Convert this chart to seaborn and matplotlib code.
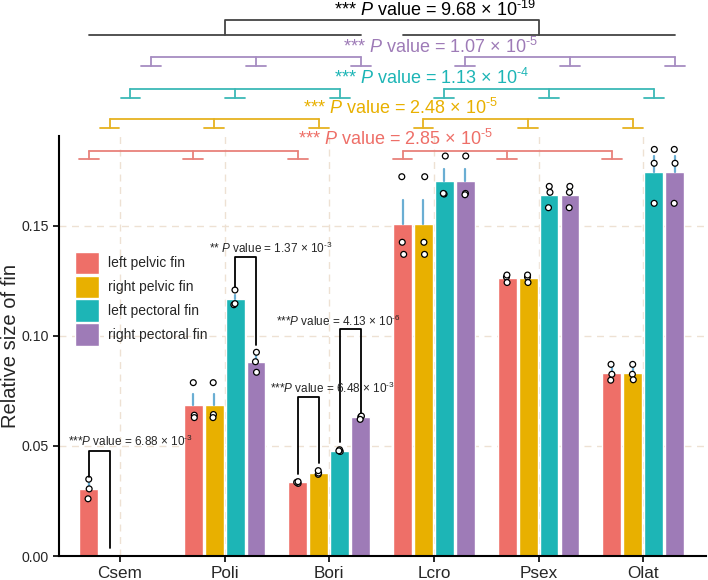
import numpy as np
import pandas as pd
import seaborn as sns
import matplotlib.pyplot as plt
from matplotlib.patches import Patch

species = ['Csem', 'Poli', 'Bori', 'Lcro', 'Psex', 'Olat']
fins = ['left pelvic fin', 'right pelvic fin', 'left pectoral fin', 'right pectoral fin']
colors = ['#EE6F68', '#E8B000', '#1DB5B6', '#9E7BB7']
line_colors = ['#E8817B', '#E6B220', '#3CB9B6', '#A68CC1']

# three measurements per species (None = not measured)
left_pelvic = [[0.0349, 0.0305, 0.0260], [0.0788, 0.0640, 0.0629], [0.0330, 0.0335, 0.0338],
               [0.1724, 0.1426, 0.1371], [0.1268, 0.1277, 0.1243], [0.0871, 0.0826, 0.0799]]
right_pelvic = [None, [0.0788, 0.0643, 0.0629], [0.0371, 0.0377, 0.0388],
                [0.1724, 0.1426, 0.1371], [0.1268, 0.1277, 0.1243], [0.0871, 0.0826, 0.0801]]
left_pectoral = [None, [0.1209, 0.1142, 0.1147], [0.0475, 0.0483, 0.0478],
                 [0.1818, 0.1645, 0.1648], [0.1653, 0.1680, 0.1583], [0.1848, 0.1785, 0.1603]]
right_pectoral = [None, [0.0926, 0.0883, 0.0835], [0.0633, 0.0636, 0.0621],
                  [0.1818, 0.1648, 0.1642], [0.1653, 0.1680, 0.1583], [0.1848, 0.1785, 0.1603]]
all_fins = [left_pelvic, right_pelvic, left_pectoral, right_pectoral]

# overall comparisons
group_p = ['*** $\\mathit{P}$ value = 2.85 × 10$^{‐5}$', '*** $\\mathit{P}$ value = 2.48 × 10$^{‐5}$',
           '*** $\\mathit{P}$ value = 1.13 × 10$^{‐4}$', '*** $\\mathit{P}$ value = 1.07 × 10$^{‐5}$']
total_p = '*** $\\mathit{P}$ value = 9.68 × 10$^{‐19}$'

# pairwise comparisons: species index, fin a, fin b, text
pair_species = [0, 1, 2, 2]
pair_fins = [(0, 1), (2, 3), (0, 1), (2, 3)]
pair_p = ['***$\\mathit{P}$ value = 6.88 × 10$^{‐3}$', '** $\\mathit{P}$ value = 1.37 × 10$^{‐3}$',
          '***$\\mathit{P}$ value = 6.48 × 10$^{‐3}$', '***$\\mathit{P}$ value = 4.13 × 10$^{‐6}$']

rows = []
for fin, vals in zip(fins, all_fins):
    for sp, v in zip(species, vals):
        if v is None:
            continue
        for x in v:
            rows.append({'species': sp, 'fin': fin, 'size': x})
df = pd.DataFrame(rows)

sns.set_style('ticks')
plt.rcParams['font.family'] = ['Liberation Sans', 'DejaVu Sans']
plt.rcParams['mathtext.fontset'] = 'custom'
plt.rcParams['mathtext.rm'] = 'Liberation Sans'
plt.rcParams['mathtext.it'] = 'Liberation Sans:italic'

fig = plt.figure(figsize=(7.08, 5.8), dpi=100)
ax = fig.add_axes([59 / 708, 24 / 580, 647 / 708, 420 / 580])

sns.barplot(data=df, x='species', y='size', hue='fin', order=species, hue_order=fins,
            palette=colors, errorbar=None, width=0.8, gap=0.1, saturation=1, ax=ax, legend=False)


def pos(i, j):
    return i + (j - 1.5) * 0.2


# error bars (mean + SE, upper side only)
for j, vals in enumerate(all_fins):
    for i, v in enumerate(vals):
        if v is None:
            continue
        m = np.mean(v)
        se = np.std(v, ddof=1) / np.sqrt(len(v))
        ax.plot([pos(i, j), pos(i, j)], [m, m + se], color='#6AAED3', lw=1.6, zorder=3)

np.random.seed(3)
sns.stripplot(data=df, x='species', y='size', hue='fin', order=species, hue_order=fins,
              palette=['white'] * 4, dodge=True, jitter=0.05, size=4.2, linewidth=0.9,
              edgecolor='black', ax=ax, legend=False, zorder=4)

ax.set_xlim(-0.583, 5.6)
ax.set_ylim(0, 0.1909)
ax.set_yticks([0, 0.05, 0.10, 0.15])
ax.set_yticklabels(['0.00', '0.05', '0.10', '0.15'])
ax.set_xlabel('')
ax.set_ylabel('Relative size of fin', fontsize=14.5)
ax.yaxis.set_label_coords(-0.061, 0.5)
ax.tick_params(axis='x', labelsize=12.3, length=4, width=1.2, color='black')
ax.tick_params(axis='y', labelsize=10.2, length=4, width=1.2, color='black')
for s in ['top', 'right']:
    ax.spines[s].set_visible(False)
for s in ['left', 'bottom']:
    ax.spines[s].set_linewidth(1.5)
    ax.spines[s].set_color('black')
ax.set_axisbelow(True)
ax.grid(True, color='#EEE1D3', linestyle=(0, (5, 4)), lw=1)

# group brackets with tees
levels = [(0.1841, 0.1803, 0.1895, 2.63), (0.1986, 0.1947, 0.2036, 2.68),
          (0.2121, 0.2083, 0.2173, 2.98), (0.2267, 0.2229, 0.2314, 3.06)]
for j, (yh, yf, yt, xt) in enumerate(levels):
    c = line_colors[j]
    for grp in [(0, 1, 2), (3, 4, 5)]:
        xs = [pos(i, j) for i in grp]
        ax.plot([xs[0], xs[-1]], [yh, yh], color=c, lw=1.3, clip_on=False)
        for x in xs:
            ax.plot([x, x], [yh, yf], color=c, lw=1.3, clip_on=False)
            ax.plot([x - 0.095, x + 0.095], [yf, yf], color=c, lw=1.3, clip_on=False)
    ax.text(xt, yt, group_p[j], color=colors[j], fontsize=13, ha='center', va='center', clip_on=False)

# total comparison
c = '#444444'
for a, b in [(pos(0, 0), pos(2, 3)), (pos(3, 0), pos(5, 3))]:
    ax.plot([a, b], [0.2367, 0.2367], color=c, lw=1.3, clip_on=False)
left_mid = (pos(0, 0) + pos(2, 3)) / 2
right_mid = (pos(3, 0) + pos(5, 3)) / 2
ax.plot([left_mid, left_mid, right_mid, right_mid], [0.2367, 0.2436, 0.2436, 0.2367],
        color=c, lw=1.3, clip_on=False)
ax.text(3.01, 0.2482, total_p, color='black', fontsize=13, ha='center', va='center', clip_on=False)

# pairwise brackets
pair_y = [(0.0479, 0.0360, 0.0036, 0.0521, 0.096), (0.1359, 0.1223, 0.0959, 0.1400, 1.444),
          (0.0724, 0.0373, 0.0421, 0.0764, 2.027), (0.1030, 0.0520, 0.0649, 0.1065, 2.084)]
for k, (top, lb, rb, yt, xt) in enumerate(pair_y):
    i = pair_species[k]
    a, b = pair_fins[k]
    xa, xb = pos(i, a), pos(i, b)
    ax.plot([xa, xa, xb, xb], [lb, top, top, rb], color='black', lw=1.3, zorder=5)
    ax.text(xt, yt, pair_p[k], fontsize=8.5, ha='center', va='center', zorder=6)

handles = [Patch(facecolor=c, edgecolor='white', lw=1, label=f) for c, f in zip(colors, fins)]
ax.legend(handles=handles, loc='upper left', bbox_to_anchor=(0.0247, 0.724), frameon=False,
          fontsize=10, handlelength=1.75, handleheight=2.1, labelspacing=0.1,
          handletextpad=0.65, borderpad=0, borderaxespad=0)

plt.savefig('out.png', dpi=100)
